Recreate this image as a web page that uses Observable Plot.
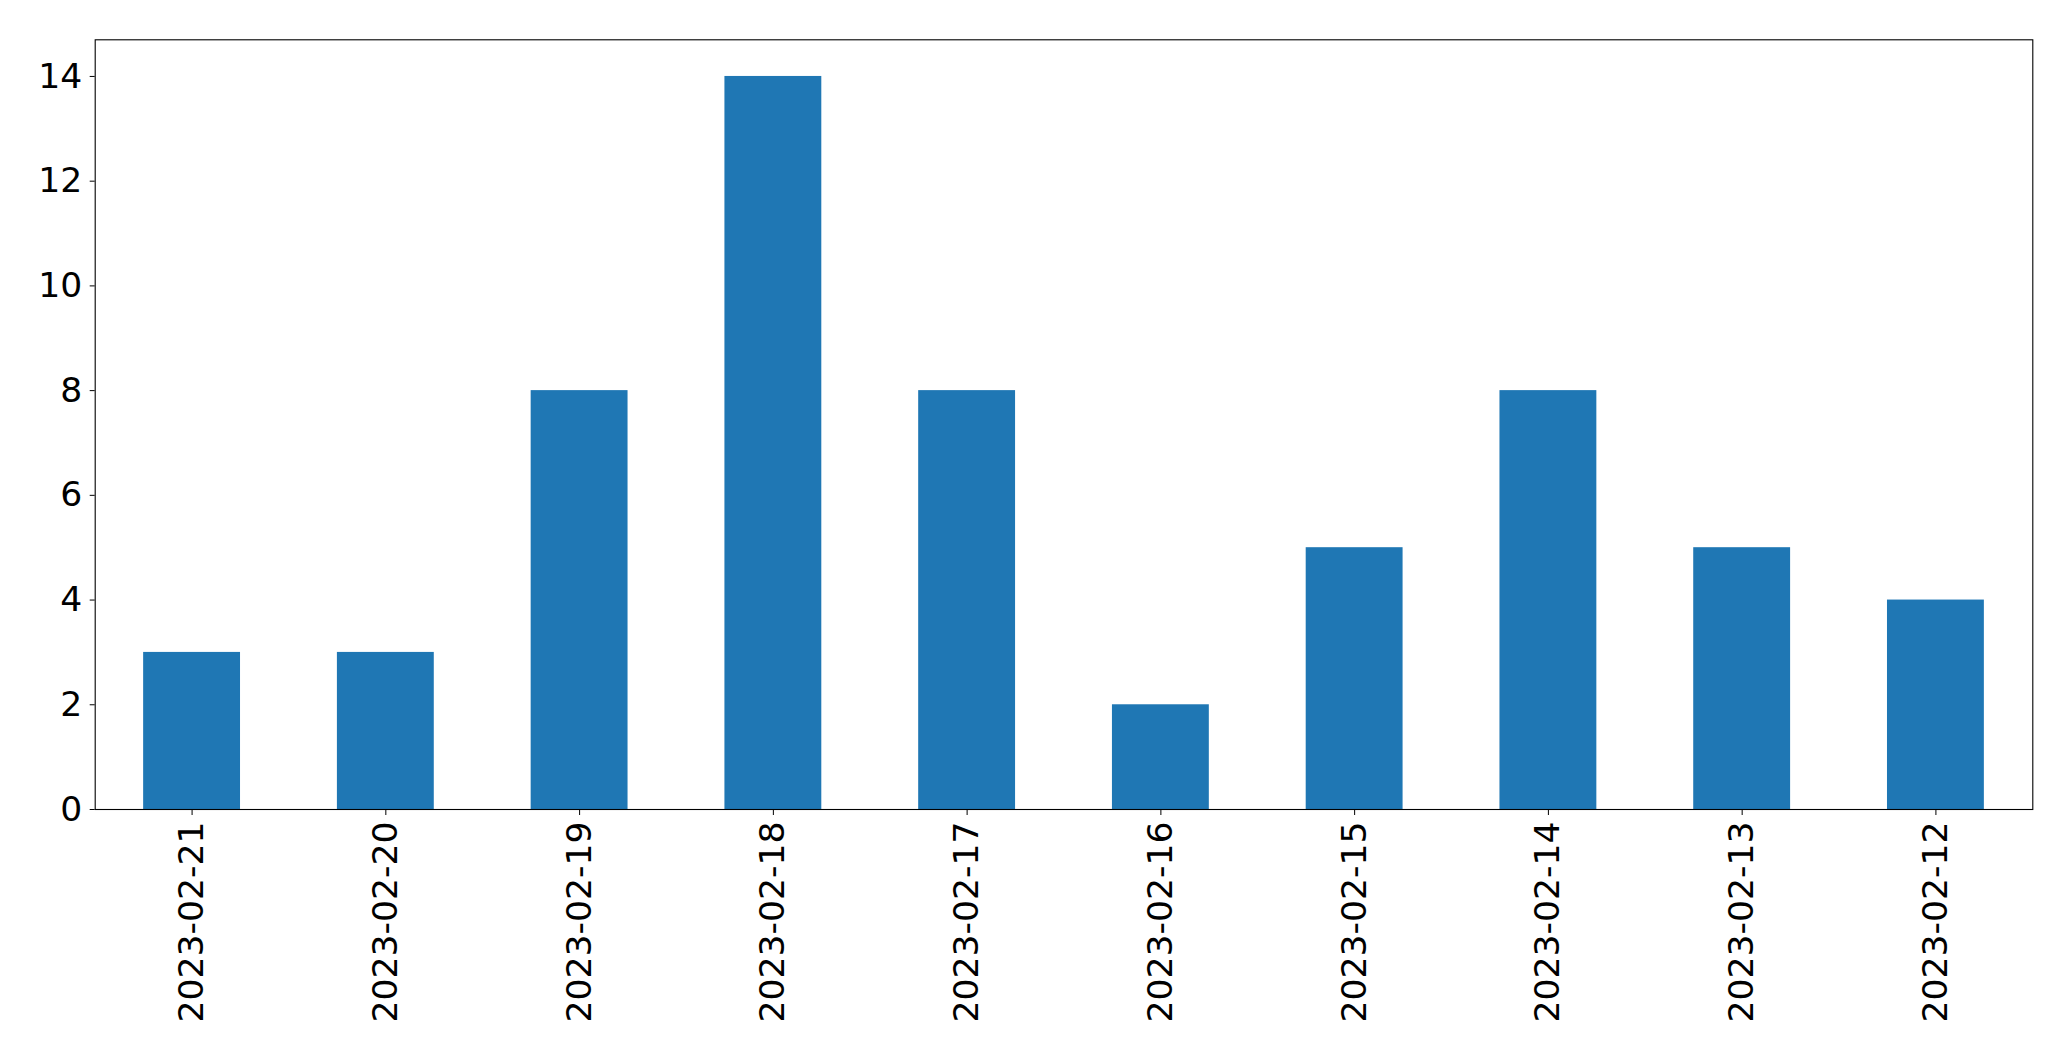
<!DOCTYPE html>
<html>
<head>
<meta charset="utf-8">
<script src="https://cdn.jsdelivr.net/npm/d3@7"></script>
<script src="https://cdn.jsdelivr.net/npm/@observablehq/plot@0.6"></script>
<style>
  html, body { margin: 0; padding: 0; background: #fff; }
  #chart svg { display: block; }
</style>
</head>
<body>
<div id="chart"></div>
<script>
const dates = ["2023-02-21","2023-02-20","2023-02-19","2023-02-18","2023-02-17","2023-02-16","2023-02-15","2023-02-14","2023-02-13","2023-02-12"];
const counts = [3, 3, 8, 14, 8, 2, 5, 8, 5, 4];
const yTicks = [0, 2, 4, 6, 8, 10, 12, 14];

const data = dates.map((d, i) => ({date: d, count: counts[i]}));

const chart = Plot.plot({
  width: 2071,
  height: 1061,
  marginLeft: 94.7,
  marginRight: 38.7,
  marginTop: 39.3,
  marginBottom: 252,
  style: {fontFamily: "DejaVu Sans", fontSize: "34.6px", background: "white", color: "black"},
  x: {domain: dates, paddingInner: 0.5, paddingOuter: 0.25, round: false, label: null},
  y: {domain: [0, 14.7], label: null},
  marks: [
    Plot.barY(data, {x: "date", y: "count", fill: "#1f77b4"}),
    Plot.frame({stroke: "black", strokeWidth: 1.1}),
    Plot.axisY({ticks: yTicks, tickSize: 5, tickPadding: 8, fontSize: 34.6, label: null, tickFormat: d => String(d)}),
    Plot.axisX({tickSize: 6, tickPadding: 6, tickRotate: -90, fontSize: 34.6, label: null})
  ]
});
document.getElementById("chart").appendChild(chart);
</script>
</body>
</html>
